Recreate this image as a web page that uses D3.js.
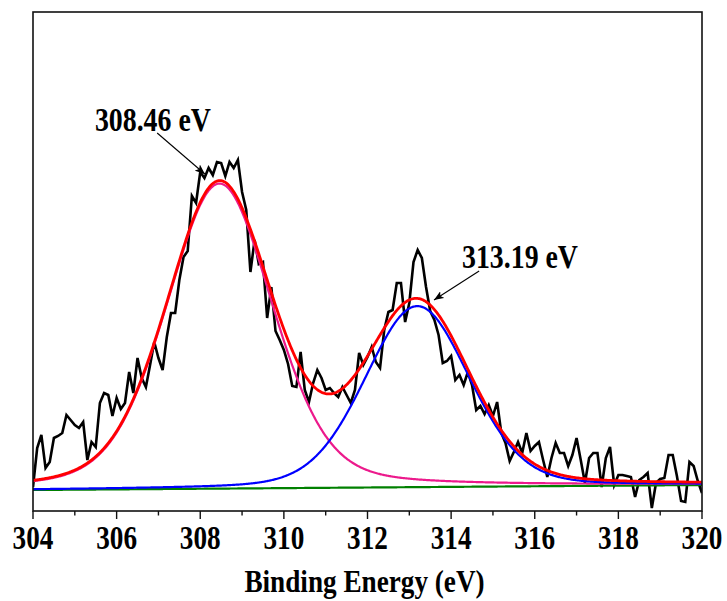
<!DOCTYPE html>
<html>
<head>
<meta charset="utf-8">
<script src="https://cdn.jsdelivr.net/npm/d3@7/dist/d3.min.js"></script>
<style>
  html, body { margin: 0; padding: 0; background: #fff; }
  svg { display: block; }
  text { font-family: "Liberation Serif", "Times New Roman", serif; font-weight: bold; fill: #000; }
</style>
</head>
<body>
<svg id="chart" width="727" height="601"></svg>
<script>
// Binding energies of the measured spectrum (eV)
const energy = [
  304.0,304.1,304.2,304.3,304.4,304.5,304.6,304.7,304.8,304.9,
  305.0,305.1,305.2,305.3,305.4,305.5,305.6,305.7,305.8,305.9,
  306.0,306.1,306.2,306.3,306.4,306.5,306.6,306.7,306.8,306.9,
  307.0,307.1,307.2,307.3,307.4,307.5,307.6,307.7,307.8,307.9,
  308.0,308.1,308.2,308.3,308.4,308.5,308.6,308.7,308.8,308.9,
  309.0,309.1,309.2,309.3,309.4,309.5,309.6,309.7,309.8,309.9,
  310.0,310.1,310.2,310.3,310.4,310.5,310.6,310.7,310.8,310.9,
  311.0,311.1,311.2,311.3,311.4,311.5,311.6,311.7,311.8,311.9,
  312.0,312.1,312.2,312.3,312.4,312.5,312.6,312.7,312.8,312.9,
  313.0,313.1,313.2,313.3,313.4,313.5,313.6,313.7,313.8,313.9,
  314.0,314.1,314.2,314.3,314.4,314.5,314.6,314.7,314.8,314.9,
  315.0,315.1,315.2,315.3,315.4,315.5,315.6,315.7,315.8,315.9,
  316.0,316.1,316.2,316.3,316.4,316.5,316.6,316.7,316.8,316.9,
  317.0,317.1,317.2,317.3,317.4,317.5,317.6,317.7,317.8,317.9,
  318.0,318.1,318.2,318.3,318.4,318.5,318.6,318.7,318.8,318.9,
  319.0,319.1,319.2,319.3,319.4,319.5,319.6,319.7,319.8,319.9,
  320.0
];

// Measured intensity (a.u.)
const intensity = [
  48,126,152,86,98,146,150,156,192,182,
  172,166,178,102,138,128,216,236,232,190,
  226,204,216,278,236,306,266,248,292,338,
  306,282,348,396,396,462,508,520,630,616,
  678,666,686,672,698,696,670,698,686,702,
  638,602,478,542,494,498,386,448,360,342,
  322,294,250,248,318,242,218,256,282,266,
  242,246,236,228,248,232,216,242,316,292,
  308,328,298,286,362,398,402,456,456,378,
  416,498,522,506,448,400,382,352,296,300,
  310,262,272,252,278,252,202,210,194,212,
  190,218,156,136,100,118,138,116,156,120,
  130,138,102,68,106,136,116,116,90,112,
  146,102,56,106,116,116,48,106,128,52,
  72,72,70,68,28,62,68,76,6,56,
  64,66,112,112,70,20,18,98,90,60,
  36
];

// Linear background: intensity at the two ends of the window
const baselineEnergy = [304, 320];
const baselineLevel = [42, 52];

// Fitted components (Gaussian-Lorentzian): centre, height, FWHM, Lorentzian fraction
const peakCenter = [308.46, 313.19];
const peakHeight = [610, 362];
const peakFwhm = [3.0, 2.95];
const peakMix = [0.27, 0.18];
const peakColor = ["#ec1a8c", "#0000ff"];

// Axis ticks and labels
const majorTicks = [304, 306, 308, 310, 312, 314, 316, 318, 320];
const minorTicks = [305, 307, 309, 311, 313, 315, 317, 319];
const xTitle = "Binding Energy (eV)";

// Peak annotations: label anchor and arrow (start -> tip), in data units
const annText = ["308.46 eV", "313.19 eV"];
const annLabelX = [305.48, 314.26];
const annLabelY = [760, 486];
const annFromX = [306.97, 314.67];
const annFromY = [756, 480];
const annToX = [308.11, 313.59];
const annToY = [674, 422];

const svg = d3.select("#chart");
const m = { left: 33, right: 702, top: 12, bottom: 511 };

const x = d3.scaleLinear().domain([304, 320]).range([m.left, m.right]);
const y = d3.scaleLinear().domain([0, 998]).range([m.bottom, m.top]);

svg.append("rect").attr("width", 727).attr("height", 601).attr("fill", "#fff");

const defs = svg.append("defs");
defs.append("clipPath").attr("id", "plotClip")
  .append("rect").attr("x", m.left).attr("y", m.top)
  .attr("width", m.right - m.left).attr("height", m.bottom - m.top);

const baseline = d3.scaleLinear().domain(baselineEnergy).range(baselineLevel);

function glPeak(i, e) {
  const t = (e - peakCenter[i]) / peakFwhm[i];
  const g = Math.exp(-4 * Math.LN2 * t * t);
  const l = 1 / (1 + 4 * t * t);
  return peakHeight[i] * ((1 - peakMix[i]) * g + peakMix[i] * l);
}

const fine = d3.range(304, 320.0001, 0.02);
const line = d3.line().x(d => x(d[0])).y(d => y(d[1]));

const plot = svg.append("g").attr("clip-path", "url(#plotClip)");

// measured spectrum
plot.append("path")
  .datum(energy.map((e, i) => [e, intensity[i]]))
  .attr("d", line)
  .attr("fill", "none").attr("stroke", "#000").attr("stroke-width", 2.6)
  .attr("stroke-linejoin", "miter");

// background
plot.append("path")
  .datum(fine.map(e => [e, baseline(e)]))
  .attr("d", line)
  .attr("fill", "none").attr("stroke", "#008000").attr("stroke-width", 2.2);

// individual components on the background
peakCenter.forEach((c, i) => {
  plot.append("path")
    .datum(fine.map(e => [e, baseline(e) + glPeak(i, e)]))
    .attr("d", line)
    .attr("fill", "none").attr("stroke", peakColor[i]).attr("stroke-width", 2.2);
});

// fitted envelope
plot.append("path")
  .datum(fine.map(e => [e, baseline(e) + glPeak(0, e) + glPeak(1, e)]))
  .attr("d", line)
  .attr("fill", "none").attr("stroke", "#ff0000").attr("stroke-width", 2.8);

// frame
svg.append("rect")
  .attr("x", m.left).attr("y", m.top)
  .attr("width", m.right - m.left).attr("height", m.bottom - m.top)
  .attr("fill", "none").attr("stroke", "#111").attr("stroke-width", 1.6);

// bottom axis
const axis = svg.append("g");
axis.selectAll("line.major").data(majorTicks).enter().append("line")
  .attr("class", "major")
  .attr("x1", d => x(d)).attr("x2", d => x(d))
  .attr("y1", m.bottom).attr("y2", m.bottom + 8)
  .attr("stroke", "#111").attr("stroke-width", 1.4);
axis.selectAll("line.minor").data(minorTicks).enter().append("line")
  .attr("class", "minor")
  .attr("x1", d => x(d)).attr("x2", d => x(d))
  .attr("y1", m.bottom).attr("y2", m.bottom + 4.5)
  .attr("stroke", "#111").attr("stroke-width", 1.4);
// condensed bold serif tick labels
axis.selectAll("text").data(majorTicks).enter().append("text")
  .attr("transform", d => `translate(${x(d)},549) scale(0.8,1)`)
  .attr("text-anchor", "middle")
  .attr("font-size", 34)
  .text(d => d);

svg.append("text")
  .attr("transform", `translate(${(m.left + m.right) / 2 - 3},592) scale(0.85,1)`)
  .attr("text-anchor", "middle")
  .attr("font-size", 32)
  .text(xTitle);

// annotations
defs.append("marker").attr("id", "arrowHead")
  .attr("viewBox", "0 0 10 8").attr("refX", 10).attr("refY", 4)
  .attr("markerWidth", 10).attr("markerHeight", 8)
  .attr("markerUnits", "userSpaceOnUse").attr("orient", "auto")
  .append("path").attr("d", "M0,0 L10,4 L0,8 L2.5,4 Z").attr("fill", "#000");

annText.forEach((t, i) => {
  svg.append("text")
    .attr("x", x(annLabelX[i])).attr("y", y(annLabelY[i]))
    .attr("font-size", 33)
    .attr("textLength", 116).attr("lengthAdjust", "spacingAndGlyphs")
    .text(t);
  svg.append("line")
    .attr("x1", x(annFromX[i])).attr("y1", y(annFromY[i]))
    .attr("x2", x(annToX[i])).attr("y2", y(annToY[i]))
    .attr("stroke", "#000").attr("stroke-width", 1.1)
    .attr("marker-end", "url(#arrowHead)");
});
</script>
</body>
</html>
